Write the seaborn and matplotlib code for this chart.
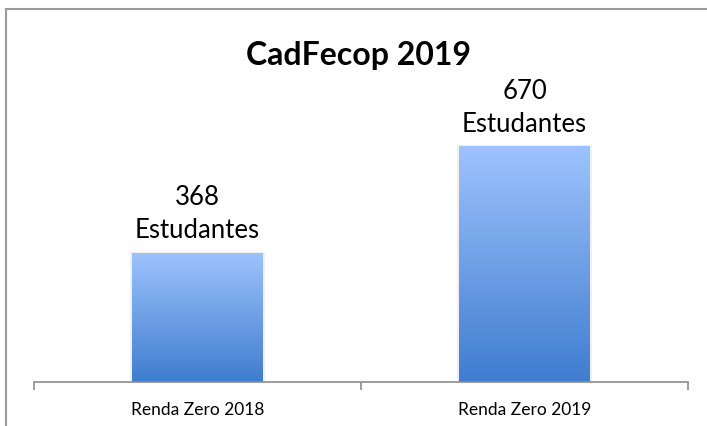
import numpy as np
import pandas as pd
import matplotlib
matplotlib.use("Agg")
import matplotlib.pyplot as plt
import seaborn as sns
from matplotlib.patches import Rectangle
from matplotlib.colors import LinearSegmentedColormap

categories = ["Renda Zero 2018", "Renda Zero 2019"]
values = [368, 670]
value_labels = ["368\nEstudantes", "670\nEstudantes"]
title = "CadFecop 2019"

sns.set_theme(style="white")
plt.rcParams['font.family'] = ['Lato', 'DejaVu Sans']

W, H = 707, 427
fig = plt.figure(figsize=(W / 100, H / 100), dpi=100)
left, right, bottom, top = 34, 688, 383, 101.8
ax = fig.add_axes([left / W, (H - bottom) / H, (right - left) / W, (bottom - top) / H])

df = pd.DataFrame({"cat": categories, "val": values})
sns.barplot(data=df, x="cat", y="val", ax=ax, width=0.4, color="#6a9de6", saturation=1)
ax.set_xlim(-0.5, 1.5)
ax.set_ylim(0, 800)

cmap = LinearSegmentedColormap.from_list("g", ["#3f7dcf", "#9dc3fd"])
grad = np.linspace(0, 1, 256).reshape(-1, 1)
for p in list(ax.patches):
    x0, y0 = p.get_x(), p.get_y()
    w, h = p.get_width(), p.get_height()
    ax.add_patch(Rectangle((x0 - 0.006, y0), w + 0.012, h + 3, facecolor="#000000",
                           alpha=0.06, edgecolor="none", zorder=1.5))
    im = ax.imshow(grad, extent=[x0, x0 + w, y0, y0 + h], origin="lower",
                   cmap=cmap, aspect="auto", zorder=2)
    im.set_clip_path(p)
    p.set_facecolor("none")
    p.set_edgecolor("none")
ax.set_xlim(-0.5, 1.5)
ax.set_ylim(0, 800)

for i, (v, lab) in enumerate(zip(values, value_labels)):
    ax.text(i, v + 30, lab, ha="center", va="bottom", fontsize=18.5, color="#000000",
            linespacing=1.4)

for s in ["top", "right", "left"]:
    ax.spines[s].set_visible(False)
ax.spines["bottom"].set_color("#8c8c8c")
ax.spines["bottom"].set_linewidth(1.2)
ax.set_yticks([])
ax.set_xlabel("")
ax.set_ylabel("")
ax.set_xticks([0, 1])
ax.set_xticklabels(categories, fontsize=12.5, color="#000000")
ax.tick_params(axis="x", which="major", length=0, pad=14)
ax.set_xticks([-0.5, 0.5, 1.5], minor=True)
ax.tick_params(axis="x", which="minor", length=6, width=1.2, color="#8c8c8c", direction="out", bottom=True)

fig.text(359 / W, 1 - 56 / H, title, ha="center", va="center", fontsize=23,
         fontweight="bold", color="#000000")

fig.patches.append(Rectangle((6 / W, -0.1), 1.2, 1 - 10 / H + 0.1, transform=fig.transFigure,
                             fill=False, edgecolor="#9a9a9a", linewidth=1.5, figure=fig))

fig.savefig("out.png", dpi=100)
